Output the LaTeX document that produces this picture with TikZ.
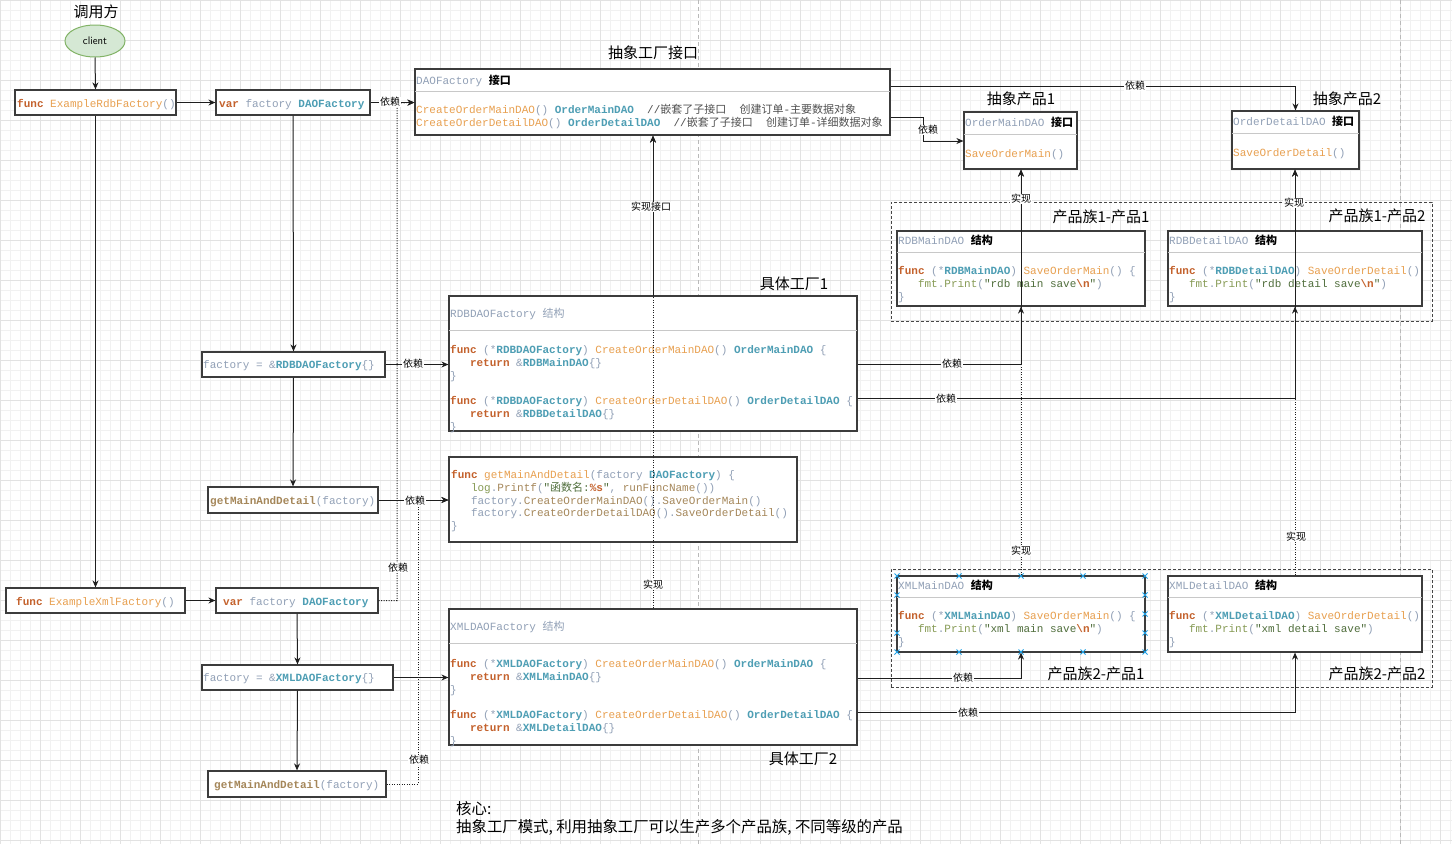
\documentclass[tikz,border=0pt]{standalone}
\usepackage{fontspec}
\setmainfont{Liberation Sans}
\setmonofont{Liberation Mono}
\newfontfamily\cjk{Noto Sans CJK SC}
\usetikzlibrary{arrows.meta,shapes.geometric,fit}

\definecolor{ckw}{RGB}{196,98,45}
\definecolor{cfn}{RGB}{232,160,80}
\definecolor{cty}{RGB}{78,158,180}
\definecolor{cpu}{RGB}{145,160,182}
\definecolor{ctn}{RGB}{165,135,90}
\definecolor{col}{RGB}{135,155,85}
\definecolor{csg}{RGB}{80,110,60}
\definecolor{ccm}{RGB}{80,80,80}
\definecolor{cbord}{RGB}{60,60,60}
\definecolor{csep}{RGB}{200,200,200}
\definecolor{cline}{RGB}{30,30,30}
\definecolor{cfam}{RGB}{70,70,70}
\definecolor{cpg}{RGB}{185,185,185}
\definecolor{cxm}{RGB}{30,160,230}
\definecolor{gmin}{RGB}{241,241,241}
\definecolor{gmaj}{RGB}{226,226,226}
\definecolor{cellf}{RGB}{213,232,212}
\definecolor{celld}{RGB}{130,179,102}

\newcommand\gKw[1]{{\bfseries\color{ckw}#1}}
\newcommand\gFn[1]{{\color{cfn}#1}}
\newcommand\gTy[1]{{\bfseries\color{cty}#1}}
\newcommand\gPu[1]{{\color{cpu}#1}}
\newcommand\gTn[1]{{\color{ctn}#1}}
\newcommand\gOl[1]{{\color{col}#1}}
\newcommand\gSg[1]{{\color{csg}#1}}
\newcommand\gCm[1]{{\color{ccm}#1}}
\newcommand\gZh[1]{{\cjk #1}}
\newcommand\gZb[1]{{\cjk\bfseries\color{black}#1}}
\newcommand\codefnt{\ttfamily\fontsize{11}{13}\selectfont}

\begin{document}
\begin{tikzpicture}[x=1pt,y=-1pt,
  bx/.style={draw=cbord, line width=1.2pt, fill=white, inner sep=0pt},
  codet/.style={anchor=west, inner sep=0pt, font=\codefnt, text height=11pt, text depth=1.5pt},
  sepl/.style={draw=csep, line width=1pt},
  tipa/.style={-{Stealth[length=7pt,width=6pt]}},
  arr/.style={draw=cline, line width=1pt, tipa},
  dotl/.style={draw=cline, line width=1pt, dash pattern=on 1pt off 1.5pt},
  lbl/.style={fill=white, inner sep=0.6pt, font=\cjk\fontsize{10}{10}\selectfont},
  ttl/.style={font=\cjk\fontsize{15}{15}\selectfont},
  fam/.style={draw=cfam, line width=1pt, dash pattern=on 3pt off 2pt, inner sep=0pt},
  pgbr/.style={draw=cpg, line width=0.8pt, dash pattern=on 4pt off 3pt},
  xm/.style={draw=cxm, line width=0.9pt},
  ell/.style={ellipse, draw=celld, fill=cellf, line width=1pt, minimum width=60, minimum height=32, inner sep=0pt, font=\sffamily\fontsize{11}{11}\selectfont}
]
\useasboundingbox (0,0) rectangle (1452,844);
\fill[white] (0,0) rectangle (1452,844);
% grid
\foreach \gx in {0,10,...,1450} {\draw[gmin, line width=0.6pt] (\gx,0) -- (\gx,844);}
\foreach \gy in {0,10,...,840} {\draw[gmin, line width=0.6pt] (0,\gy) -- (1452,\gy);}
\foreach \gx in {0,40,...,1440} {\draw[gmaj, line width=0.6pt] (\gx,0) -- (\gx,844);}
\foreach \gy in {0,40,...,840} {\draw[gmaj, line width=0.6pt] (0,\gy) -- (1452,\gy);}
% page breaks
\draw[pgbr] (698,0) -- (698,844);
\draw[pgbr] (1400,0) -- (1400,844);

% titles
\node[ttl] (tcaller) at (96,12) {调用方};
\node[ttl] (tabsf) at (653,53) {抽象工厂接口};
\node[ttl] (tap1) at (1021,99) {抽象产品1};
\node[ttl] (tap2) at (1347,99) {抽象产品2};
\node[ttl] (tf11) at (1101,217) {产品族1-产品1};
\node[ttl] (tf12) at (1377,216) {产品族1-产品2};
\node[ttl] (tcf1) at (794,284) {具体工厂1};
\node[ttl] (tcf2) at (803,759) {具体工厂2};
\node[ttl] (tf21) at (1096,674) {产品族2-产品1};
\node[ttl] (tf22) at (1377,674) {产品族2-产品2};
\node[anchor=west, align=left, inner sep=0pt, font=\cjk\fontsize{15.4}{18}\selectfont] (core) at (456,818) {核心:\\抽象工厂模式, 利用抽象工厂可以生产多个产品族, 不同等级的产品};

% client
\node[ell] (client) at (95,41) {client};

% left column boxes
\node[bx, fit={(15,90) (176,115)}] (a1) {};
\node[codet] (a1t) at (17,103) {\gKw{func} \gFn{ExampleRdbFactory}\gPu{()}};
\node[bx, fit={(216,90) (370,115)}] (b1) {};
\node[codet] (b1t) at (219,103) {\gKw{var} \gPu{factory} \gTy{DAOFactory}};
\node[bx, fit={(6,588) (185,613)}] (a2) {};
\node[codet] (a2t) at (16,601) {\gKw{func} \gFn{ExampleXmlFactory}\gPu{()}};
\node[bx, fit={(216,588) (378,613)}] (b2) {};
\node[codet] (b2t) at (223,601) {\gKw{var} \gPu{factory} \gTy{DAOFactory}};
\node[bx, fit={(202,352) (385,377)}] (c1) {};
\node[codet] (c1t) at (203,364) {\gPu{factory = \&}\gTy{RDBDAOFactory}\gPu{\{\}}};
\node[bx, fit={(208,487) (378,513)}] (d1) {};
\node[codet] (d1t) at (210,500) {\gTn{\bfseries getMainAndDetail}\gPu{(factory)}};
\node[bx, fit={(202,665) (393,690)}] (c2) {};
\node[codet] (c2t) at (203,677) {\gPu{factory = \&}\gTy{XMLDAOFactory}\gPu{\{\}}};
\node[bx, fit={(208,771) (386,797)}] (d2) {};
\node[codet] (d2t) at (214,784) {\gTn{\bfseries getMainAndDetail}\gPu{(factory)}};

% DAOFactory interface
\node[bx, fit={(415,69) (890,135)}] (daof) {};
\draw[sepl] (415,91) -- (890,91);
\node[codet] (daoh) at (416,80) {\gPu{DAOFactory} \gZb{接口}};
\node[codet] (daol1) at (416,109) {\gFn{CreateOrderMainDAO}\gPu{()} \gTy{OrderMainDAO}~~\gCm{//\gZh{嵌套了子接口}~~\gZh{创建订单}-\gZh{主要数据对象}}};
\node[codet] (daol2) at (416,122) {\gFn{CreateOrderDetailDAO}\gPu{()} \gTy{OrderDetailDAO}~~\gCm{//\gZh{嵌套了子接口}~~\gZh{创建订单}-\gZh{详细数据对象}}};

% RDBDAOFactory
\node[bx, fit={(449,296) (857,431)}] (rdbf) {};
\draw[sepl] (449,330) -- (857,330);
\node[codet] (rdbfh) at (450,313) {\gPu{RDBDAOFactory \gZh{结构}}};
\node[codet] (rdbf1) at (450,349) {\gKw{func} \gPu{(*}\gTy{RDBDAOFactory}\gPu{)} \gFn{CreateOrderMainDAO}\gPu{()} \gTy{OrderMainDAO} \gPu{\{}};
\node[codet] (rdbf2) at (450,362) {~~~\gKw{return} \gPu{\&}\gTy{RDBMainDAO}\gPu{\{\}}};
\node[codet] (rdbf3) at (450,375) {\gPu{\}}};
\node[codet] (rdbf4) at (450,400) {\gKw{func} \gPu{(*}\gTy{RDBDAOFactory}\gPu{)} \gFn{CreateOrderDetailDAO}\gPu{()} \gTy{OrderDetailDAO} \gPu{\{}};
\node[codet] (rdbf5) at (450,413) {~~~\gKw{return} \gPu{\&}\gTy{RDBDetailDAO}\gPu{\{\}}};
\node[codet] (rdbf6) at (450,426) {\gPu{\}}};

% getMainAndDetail
\node[bx, fit={(449,457) (797,542)}] (gmd) {};
\node[codet] (gmd1) at (451,474) {\gKw{func} \gFn{getMainAndDetail}\gPu{(factory} \gTy{DAOFactory}\gPu{) \{}};
\node[codet] (gmd2) at (451,487) {~~~\gOl{log}\gPu{.}\gTn{Printf}\gPu{(}\gSg{"\gZh{函数名}:}\gKw{\%s}\gSg{"}\gPu{,} \gTn{runFuncName}\gPu{())}};
\node[codet] (gmd3) at (451,500) {~~~\gPu{factory.}\gTn{CreateOrderMainDAO}\gPu{().}\gTn{SaveOrderMain}\gPu{()}};
\node[codet] (gmd4) at (451,512) {~~~\gPu{factory.}\gTn{CreateOrderDetailDAO}\gPu{().}\gTn{SaveOrderDetail}\gPu{()}};
\node[codet] (gmd5) at (451,525) {\gPu{\}}};

% XMLDAOFactory
\node[bx, fit={(449,609) (857,745)}] (xmlf) {};
\draw[sepl] (449,643) -- (857,643);
\node[codet] (xmlfh) at (450,626) {\gPu{XMLDAOFactory \gZh{结构}}};
\node[codet] (xmlf1) at (450,663) {\gKw{func} \gPu{(*}\gTy{XMLDAOFactory}\gPu{)} \gFn{CreateOrderMainDAO}\gPu{()} \gTy{OrderMainDAO} \gPu{\{}};
\node[codet] (xmlf2) at (450,676) {~~~\gKw{return} \gPu{\&}\gTy{XMLMainDAO}\gPu{\{\}}};
\node[codet] (xmlf3) at (450,689) {\gPu{\}}};
\node[codet] (xmlf4) at (450,714) {\gKw{func} \gPu{(*}\gTy{XMLDAOFactory}\gPu{)} \gFn{CreateOrderDetailDAO}\gPu{()} \gTy{OrderDetailDAO} \gPu{\{}};
\node[codet] (xmlf5) at (450,727) {~~~\gKw{return} \gPu{\&}\gTy{XMLDetailDAO}\gPu{\{\}}};
\node[codet] (xmlf6) at (450,740) {\gPu{\}}};

% abstract products
\node[bx, fit={(964,112) (1077,169)}] (omd) {};
\draw[sepl] (964,134) -- (1077,134);
\node[codet] (omdh) at (965,122) {\gPu{OrderMainDAO} \gZb{接口}};
\node[codet] (omdb) at (965,153) {\gFn{SaveOrderMain}\gPu{()}};
\node[bx, fit={(1232,111) (1359,169)}] (odd) {};
\draw[sepl] (1232,133) -- (1359,133);
\node[codet] (oddh) at (1233,121) {\gPu{OrderDetailDAO} \gZb{接口}};
\node[codet] (oddb) at (1233,152) {\gFn{SaveOrderDetail}\gPu{()}};

% family 1
\node[fam, fit={(891,202) (1432,321)}] (fam1) {};
\node[bx, fit={(897,231) (1145,306)}] (rdbm) {};
\draw[sepl] (897,252) -- (1145,252);
\node[codet] (rdbmh) at (898,240) {\gPu{RDBMainDAO} \gZb{结构}};
\node[codet] (rdbm1) at (898,270) {\gKw{func} \gPu{(*}\gTy{RDBMainDAO}\gPu{)} \gFn{SaveOrderMain}\gPu{() \{}};
\node[codet] (rdbm2) at (898,283) {~~~\gOl{fmt}\gPu{.}\gOl{Print}\gPu{(}\gSg{"rdb main save}\gKw{\textbackslash n}\gSg{"}\gPu{)}};
\node[codet] (rdbm3) at (898,296) {\gPu{\}}};
\node[bx, fit={(1168,231) (1422,306)}] (rdbd) {};
\draw[sepl] (1168,252) -- (1422,252);
\node[codet] (rdbdh) at (1169,240) {\gPu{RDBDetailDAO} \gZb{结构}};
\node[codet] (rdbd1) at (1169,270) {\gKw{func} \gPu{(*}\gTy{RDBDetailDAO}\gPu{)} \gFn{SaveOrderDetail}\gPu{()}};
\node[codet] (rdbd2) at (1169,283) {~~~\gOl{fmt}\gPu{.}\gOl{Print}\gPu{(}\gSg{"rdb detail save}\gKw{\textbackslash n}\gSg{"}\gPu{)}};
\node[codet] (rdbd3) at (1169,296) {\gPu{\}}};

% family 2
\node[fam, fit={(891,569) (1432,687)}] (fam2) {};
\node[bx, fit={(897,576) (1145,652)}] (xmlm) {};
\draw[sepl] (897,597) -- (1145,597);
\node[codet] (xmlmh) at (898,585) {\gPu{XMLMainDAO} \gZb{结构}};
\node[codet] (xmlm1) at (898,615) {\gKw{func} \gPu{(*}\gTy{XMLMainDAO}\gPu{)} \gFn{SaveOrderMain}\gPu{() \{}};
\node[codet] (xmlm2) at (898,628) {~~~\gOl{fmt}\gPu{.}\gOl{Print}\gPu{(}\gSg{"xml main save}\gKw{\textbackslash n}\gSg{"}\gPu{)}};
\node[codet] (xmlm3) at (898,641) {\gPu{\}}};
\node[bx, fit={(1168,576) (1422,652)}] (xmld) {};
\draw[sepl] (1168,597) -- (1422,597);
\node[codet] (xmldh) at (1169,585) {\gPu{XMLDetailDAO} \gZb{结构}};
\node[codet] (xmld1) at (1169,615) {\gKw{func} \gPu{(*}\gTy{XMLDetailDAO}\gPu{)} \gFn{SaveOrderDetail}\gPu{()}};
\node[codet] (xmld2) at (1169,628) {~~~\gOl{fmt}\gPu{.}\gOl{Print}\gPu{(}\gSg{"xml detail save"}\gPu{)}};
\node[codet] (xmld3) at (1169,641) {\gPu{\}}};

% selection marks on XMLMainDAO
\foreach \cx/\cy in {897/576,959/576,1021/576,1083/576,1145/576,897/652,959/652,1021/652,1083/652,1145/652,897/595,897/633,1145/595,1145/614,1145/633}
  {\draw[xm] (\cx-2.5,\cy-2.5) -- (\cx+2.5,\cy+2.5) (\cx-2.5,\cy+2.5) -- (\cx+2.5,\cy-2.5);}

% connectors - left
\draw[arr] (client.south) -- (a1.north);
\draw[arr] (a1.east) -- (b1.west);
\draw[arr] (b1.east) -- (daof.west |- b1.east);
\draw[arr] (a1.south) -- (a2.north);
\draw[arr] (a2.east) -- (b2.west);
\draw[dotl, tipa] (b2.east) -| (397,103) -- (daof.west |- b1.east);
\draw[arr] (b1.south) -- (c1.north);
\draw[arr] (c1.east) -- (rdbf.west |- c1.east);
\draw[arr] (c1.south) -- (d1.north);
\draw[arr] (d1.east) -- (gmd.west |- d1.east);
\draw[arr] (b2.south) -- (c2.north);
\draw[arr] (c2.east) -- (xmlf.west |- c2.east);
\draw[arr] (c2.south) -- (d2.north);
\draw[dotl, tipa] (d2.east) -| (418,500) -- (gmd.west |- d1.east);
% factory implements
\draw[arr] (rdbf.north) -- (rdbf.north |- daof.south);
\draw[dotl, tipa] (xmlf.north) -- (xmlf.north |- daof.south);
% interface depends on products
\draw[arr] (daof.east |- 0,86) -| (odd.north);
\draw[arr] (daof.east |- 0,117) -- (923,117) |- (omd.west |- 0,141);
% products implement
\draw[arr] (rdbm.south) -- (rdbm.south |- omd.south);
\draw[arr] (rdbd.south) -- (rdbd.south |- odd.south);
\draw[dotl, tipa] (xmlm.north) -- (xmlm.north |- omd.south);
\draw[dotl, tipa] (xmld.north) -- (xmld.north |- odd.south);
% factories depend on products
\draw[arr] (rdbf.east |- 0,364) -| (rdbm.south);
\draw[arr] (rdbf.east |- 0,398) -| (rdbd.south);
\draw[arr] (xmlf.east |- 0,678) -| (xmlm.south);
\draw[arr] (xmlf.east |- 0,712) -| (xmld.south);

% labels
\node[lbl] (l1) at (390,102) {依赖};
\node[lbl] (l2) at (398,568) {依赖};
\node[lbl] (l3) at (413,364) {依赖};
\node[lbl] (l4) at (415,501) {依赖};
\node[lbl] (l5) at (419,760) {依赖};
\node[lbl] (l6) at (651,207) {实现接口};
\node[lbl] (l7) at (653,585) {实现};
\node[lbl] (l8) at (1135,86) {依赖};
\node[lbl] (l9) at (928,130) {依赖};
\node[lbl] (l10) at (1021,199) {实现};
\node[lbl] (l11) at (1294,203) {实现};
\node[lbl] (l12) at (1021,551) {实现};
\node[lbl] (l13) at (1296,537) {实现};
\node[lbl] (l14) at (952,364) {依赖};
\node[lbl] (l15) at (946,399) {依赖};
\node[lbl] (l16) at (963,678) {依赖};
\node[lbl] (l17) at (968,713) {依赖};
\end{tikzpicture}
\end{document}
